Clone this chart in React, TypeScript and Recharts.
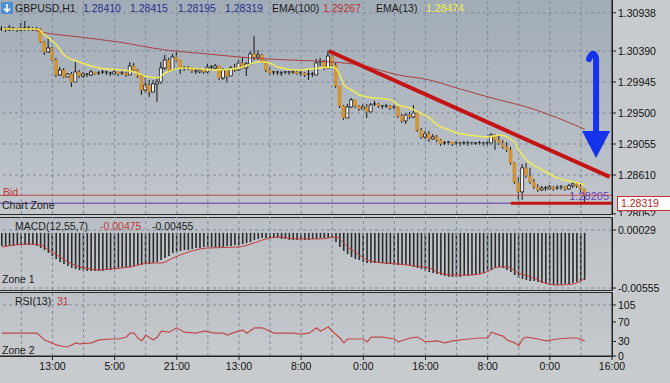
import React from "react";
import {
  Bar,
  ComposedChart,
  Line,
  ReferenceDot,
  ReferenceLine,
  XAxis,
  YAxis,
} from "recharts";

// GBPUSD H1 candles, bar 0 .. 150 (open = previous close)
const firstOpen = 1.30692;
const closes = [
  1.30706, 1.30692, 1.3072, 1.30706, 1.30692, 1.3072, 1.30706, 1.3072, 1.30692, 1.30706,
  1.30519, 1.30376, 1.30433, 1.30261, 1.30046, 1.30117, 1.30017, 1.3006, 1.29945, 1.30089,
  1.30031, 1.3006, 1.30046, 1.30089, 1.3006, 1.30074, 1.30089, 1.30074, 1.3006, 1.30089,
  1.3006, 1.30074, 1.30046, 1.30175, 1.30117, 1.30031, 1.2983, 1.29902, 1.29802, 1.29917,
  1.29945, 1.30146, 1.30261, 1.30117, 1.30304, 1.30261, 1.30146, 1.30132, 1.30146, 1.30103,
  1.30089, 1.30117, 1.30089, 1.30161, 1.30146, 1.30175, 1.30003, 1.30117, 1.30031, 1.30146,
  1.30117, 1.30218, 1.30146, 1.30204, 1.30347, 1.30304, 1.30333, 1.30247, 1.30117, 1.30074,
  1.30089, 1.30074, 1.30074, 1.30089, 1.30074, 1.30089, 1.3006, 1.30074, 1.30046, 1.3006,
  1.30046, 1.30218, 1.30232, 1.30146, 1.30318, 1.30189, 1.29888, 1.29601, 1.29429, 1.29587,
  1.29687, 1.29601, 1.29558, 1.29587, 1.29515, 1.29615, 1.2963, 1.29601, 1.29587, 1.29601,
  1.29572, 1.29587, 1.29457, 1.29386, 1.29472, 1.29443, 1.295, 1.29257, 1.29156, 1.29199,
  1.29127, 1.29156, 1.29113, 1.29055, 1.2907, 1.29084, 1.29055, 1.2907, 1.29055, 1.2907,
  1.29055, 1.2907, 1.29055, 1.2907, 1.29055, 1.2907, 1.29185, 1.29113, 1.2907, 1.29013,
  1.2897, 1.28783, 1.2851, 1.28367, 1.28712, 1.28597, 1.2851, 1.28439, 1.28396, 1.28424,
  1.2841, 1.28439, 1.2841, 1.28424, 1.28439, 1.2841, 1.28453, 1.28482, 1.28453, 1.2841,
  1.28319,
];
const highs = [
  1.30749, 1.30735, 1.30763, 1.30735, 1.3072, 1.30792, 1.30821, 1.30749, 1.30735, 1.30735,
  1.3072, 1.30534, 1.30577, 1.30448, 1.3029, 1.30161, 1.30146, 1.30074, 1.30089, 1.30232,
  1.30117, 1.30089, 1.30074, 1.30117, 1.30089, 1.30103, 1.30117, 1.30103, 1.30089, 1.30117,
  1.30089, 1.30103, 1.30089, 1.30232, 1.30218, 1.30132, 1.30046, 1.30003, 1.29974, 1.29974,
  1.30003, 1.30232, 1.30333, 1.3029, 1.30347, 1.30376, 1.30261, 1.30175, 1.30175, 1.30161,
  1.30132, 1.30146, 1.30132, 1.30204, 1.30189, 1.30204, 1.30175, 1.30146, 1.30089, 1.30175,
  1.30204, 1.30261, 1.30304, 1.30232, 1.3039, 1.30605, 1.30405, 1.30347, 1.30261, 1.30161,
  1.30103, 1.30103, 1.30103, 1.30103, 1.30103, 1.30117, 1.30117, 1.30103, 1.30089, 1.30117,
  1.30089, 1.30275, 1.3029, 1.30261, 1.30405, 1.30333, 1.30218, 1.29888, 1.29615, 1.2963,
  1.29716, 1.29687, 1.29615, 1.2963, 1.2963, 1.29644, 1.29673, 1.29644, 1.29615, 1.2963,
  1.29615, 1.29615, 1.29587, 1.29486, 1.295, 1.29515, 1.29615, 1.29515, 1.29285, 1.29242,
  1.29242, 1.29199, 1.29185, 1.29127, 1.29099, 1.29099, 1.29084, 1.29099, 1.29084, 1.29099,
  1.29099, 1.29084, 1.29084, 1.29099, 1.29084, 1.29099, 1.29214, 1.29199, 1.29185, 1.29113,
  1.29084, 1.29013, 1.28797, 1.28582, 1.28769, 1.28783, 1.28712, 1.28553, 1.28482, 1.28453,
  1.28453, 1.28467, 1.28453, 1.28467, 1.28467, 1.28453, 1.28482, 1.2851, 1.28496, 1.28496,
  1.28415,
];
const lows = [
  1.30677, 1.30663, 1.30677, 1.30677, 1.30663, 1.30677, 1.30677, 1.30677, 1.30677, 1.30677,
  1.30505, 1.30333, 1.30362, 1.30247, 1.30017, 1.30031, 1.30003, 1.30017, 1.29874, 1.29945,
  1.30003, 1.30003, 1.30017, 1.30031, 1.30046, 1.30046, 1.3006, 1.30046, 1.30031, 1.30046,
  1.30031, 1.30046, 1.30017, 1.30074, 1.30103, 1.30003, 1.29759, 1.29787, 1.2973, 1.29802,
  1.29658, 1.29917, 1.30117, 1.30089, 1.30117, 1.30232, 1.3006, 1.30103, 1.30117, 1.30074,
  1.3006, 1.30074, 1.3006, 1.30074, 1.30117, 1.30132, 1.29974, 1.29974, 1.29931, 1.30031,
  1.30089, 1.30103, 1.30132, 1.30031, 1.30189, 1.30261, 1.30261, 1.30218, 1.30089, 1.30046,
  1.30046, 1.30046, 1.30031, 1.3006, 1.30046, 1.3006, 1.30046, 1.30031, 1.30017, 1.29974,
  1.30017, 1.30089, 1.30175, 1.30117, 1.30146, 1.30161, 1.29859, 1.29572, 1.294, 1.29429,
  1.29572, 1.29572, 1.29529, 1.29558, 1.29429, 1.295, 1.29601, 1.29572, 1.29558, 1.29572,
  1.29544, 1.29558, 1.29429, 1.29357, 1.29343, 1.29414, 1.29429, 1.29228, 1.29127, 1.29127,
  1.29084, 1.29113, 1.29084, 1.29027, 1.29041, 1.29041, 1.29027, 1.29041, 1.29027, 1.29041,
  1.29027, 1.29041, 1.29041, 1.29041, 1.29027, 1.29027, 1.29041, 1.2897, 1.29041, 1.28984,
  1.28941, 1.28755, 1.28482, 1.28252, 1.28252, 1.28568, 1.28482, 1.2841, 1.28367, 1.28381,
  1.28381, 1.28396, 1.28381, 1.28396, 1.28396, 1.28381, 1.28396, 1.28424, 1.28424, 1.28367,
  1.28195,
];

// moving averages, read at a few bars
const ema13Bars = [0, 9, 11, 14, 16, 20, 25, 33, 38, 40, 42, 47, 55, 61, 66, 68, 71, 76, 82, 85, 87, 88, 90, 92, 94, 100, 102, 105, 107, 110, 112, 115, 117, 120, 125, 128, 130, 132, 133, 135, 139, 143, 147, 150];
const ema13Values = [1.30706, 1.30706, 1.3062, 1.30476, 1.30333, 1.30232, 1.30146, 1.30103, 1.30017, 1.30003, 1.30074, 1.30146, 1.30117, 1.30146, 1.30232, 1.30232, 1.30161, 1.30117, 1.30146, 1.30161, 1.30046, 1.29902, 1.2983, 1.29759, 1.2973, 1.29687, 1.29615, 1.29572, 1.29515, 1.29429, 1.29328, 1.29257, 1.29214, 1.29185, 1.29156, 1.29185, 1.29156, 1.2907, 1.2897, 1.28826, 1.28683, 1.28568, 1.2851, 1.28474];
const ema100Bars = [0, 7, 10, 20, 30, 42, 53, 64, 74, 85, 92, 102, 110, 117, 128, 135, 143, 150];
const ema100Values = [1.30706, 1.30706, 1.30663, 1.30591, 1.30519, 1.30405, 1.30347, 1.3029, 1.30261, 1.30232, 1.30189, 1.30046, 1.29974, 1.29859, 1.29687, 1.29587, 1.29429, 1.29267];

// MACD(12,55,7)
const macdValues = [
  -0.00132, -0.00132, -0.00132, -0.00132, -0.00122, -0.00122, -0.00122, -0.00122, -0.00122, -0.00132,
  -0.00152, -0.00172, -0.00202, -0.00233, -0.00263, -0.00293, -0.00313, -0.00333, -0.00353, -0.00364,
  -0.00374, -0.00384, -0.00384, -0.00384, -0.00384, -0.00384, -0.00384, -0.00374, -0.00374, -0.00364,
  -0.00353, -0.00353, -0.00343, -0.00343, -0.00333, -0.00323, -0.00323, -0.00313, -0.00313, -0.00303,
  -0.00293, -0.00273, -0.00253, -0.00233, -0.00202, -0.00192, -0.00182, -0.00172, -0.00172, -0.00162,
  -0.00152, -0.00152, -0.00142, -0.00142, -0.00142, -0.00142, -0.00142, -0.00142, -0.00132, -0.00132,
  -0.00122, -0.00122, -0.00112, -0.00102, -0.00092, -0.00071, -0.00061, -0.00051, -0.00051, -0.00051,
  -0.00051, -0.00051, -0.00061, -0.00061, -0.00071, -0.00071, -0.00071, -0.00071, -0.00071, -0.00071,
  -0.00061, -0.00061, -0.00051, -0.00051, -0.00051, -0.00051, -0.00092, -0.00142, -0.00182, -0.00212,
  -0.00243, -0.00263, -0.00273, -0.00293, -0.00303, -0.00303, -0.00303, -0.00303, -0.00303, -0.00313,
  -0.00313, -0.00323, -0.00323, -0.00323, -0.00323, -0.00333, -0.00343, -0.00353, -0.00364, -0.00384,
  -0.00394, -0.00404, -0.00414, -0.00424, -0.00434, -0.00444, -0.00444, -0.00444, -0.00444, -0.00434,
  -0.00434, -0.00424, -0.00424, -0.00414, -0.00404, -0.00394, -0.00374, -0.00353, -0.00343, -0.00353,
  -0.00374, -0.00394, -0.00424, -0.00454, -0.00464, -0.00475, -0.00485, -0.00485, -0.00495, -0.00505,
  -0.00515, -0.00525, -0.00525, -0.00525, -0.00525, -0.00515, -0.00515, -0.00505, -0.00495, -0.00485,
  -0.00475,
];
const signalBars = [0, 7, 10, 12, 15, 17, 20, 23, 25, 28, 33, 38, 41, 44, 48, 53, 61, 64, 69, 71, 76, 82, 86, 89, 92, 94, 98, 102, 106, 110, 112, 116, 120, 124, 128, 130, 133, 137, 139, 143, 147, 150];
const signalValues = [-0.00142, -0.00112, -0.00122, -0.00172, -0.00243, -0.00293, -0.00343, -0.00364, -0.00374, -0.00364, -0.00343, -0.00303, -0.00303, -0.00253, -0.00192, -0.00152, -0.00142, -0.00112, -0.00051, -0.00041, -0.00061, -0.00061, -0.00041, -0.00142, -0.00223, -0.00273, -0.00303, -0.00313, -0.00333, -0.00353, -0.00394, -0.00424, -0.00424, -0.00404, -0.00343, -0.00343, -0.00404, -0.00454, -0.00495, -0.00525, -0.00515, -0.00455];

// RSI(13)
const rsiBars = [0, 5, 9, 11, 14, 16, 17, 19, 20, 23, 25, 28, 30, 32, 33, 34, 35, 36, 37, 39, 40, 41, 43, 45, 47, 50, 52, 55, 57, 58, 60, 62, 63, 65, 67, 70, 73, 75, 77, 79, 81, 82, 84, 85, 87, 88, 89, 93, 94, 95, 98, 101, 102, 105, 107, 109, 112, 114, 116, 120, 123, 125, 126, 128, 129, 130, 132, 133, 134, 135, 138, 140, 143, 146, 148, 150];
const rsiValues = [47, 47, 47, 33, 23, 19, 19, 27, 25, 27, 33, 35, 35, 39, 47, 47, 37, 31, 43, 33, 39, 51, 49, 58, 49, 47, 51, 47, 47, 43, 49, 53, 47, 58, 58, 47, 47, 47, 45, 47, 58, 51, 60, 51, 37, 27, 35, 35, 29, 39, 39, 35, 29, 37, 39, 29, 31, 27, 31, 35, 37, 37, 49, 43, 41, 33, 27, 21, 35, 39, 35, 31, 35, 37, 37, 31];

// axes
const priceTicks = [1.30938, 1.3039, 1.29945, 1.295, 1.29055, 1.2861, 1.28052];
const macdTicks = [0.00029, -0.00555];
const rsiTicks = [0, 30, 70, 105];
const gridBars = [5, 13, 21, 29, 37, 45, 53, 61, 69, 77, 85, 93, 101, 109, 117, 125, 133, 141, 149];
const timeBars = [13, 29, 45, 61, 77, 93, 109, 125, 141, 157];
const timeLabels = ["13:00", "5:00", "21:00", "13:00", "8:00", "0:00", "16:00", "8:00", "0:00", "16:00"];

// drawn objects
const bidPrice = 1.28319;
const supportPrice = 1.28205;
const trendLine = [
  { x: 84.1, y: 1.3039 },
  { x: 156.4, y: 1.28582 },
];
const supportLine = [
  { x: 131, y: 1.28205 },
  { x: 156.9, y: 1.28205 },
];
const arrowAt = { x: 152.9, y: 1.30332 };

const X_DOMAIN: [number, number] = [-0.5, 157];
const FONT = '"Liberation Sans", Arial, sans-serif';
const GRID = "#7f8c9a";
const tickStyle = { fill: "#111", fontSize: 10.5, fontFamily: FONT };

const candles = closes.map((close, i) => {
  const open = i === 0 ? firstOpen : closes[i - 1];
  const high = Math.max(highs[i], open, close);
  const low = Math.min(lows[i], open, close);
  return { i, open, close, high, low, range: [low, high] };
});
const toPoints = (bars: number[], values: number[]) =>
  bars.map((i, k) => ({ i, v: values[k] }));
const ema13Points = toPoints(ema13Bars, ema13Values);
const ema100Points = toPoints(ema100Bars, ema100Values);
const macdRows = macdValues.map((macd, i) => ({ i, macd }));
const signalPoints = toPoints(signalBars, signalValues);
const rsiPoints = toPoints(rsiBars, rsiValues);

const Candle = (props: any) => {
  const { x, y, width, height, payload } = props;
  if (payload == null || x == null) return null;
  const top = Math.min(y, y + height);
  const h = Math.abs(height);
  const { open, close, high, low } = payload;
  const k = high - low > 0 ? h / (high - low) : 0;
  const cx = x + width / 2;
  const bTop = top + (high - Math.max(open, close)) * k;
  const bBot = top + (high - Math.min(open, close)) * k;
  const bull = close > open;
  const bh = bBot - bTop;
  return (
    <g>
      <line x1={cx} x2={cx} y1={top} y2={top + h} stroke="#161616" strokeWidth={1} />
      {bh < 1.2 ? (
        <line x1={cx - 1.5} x2={cx + 1.5} y1={bTop} y2={bTop} stroke="#161616" strokeWidth={1} />
      ) : (
        <rect
          x={cx - 1.5}
          y={bTop}
          width={3}
          height={bh}
          fill={bull ? "#f6f6f6" : "#d9952e"}
          stroke={bull ? "#161616" : "#c07f22"}
          strokeWidth={bull ? 0.8 : 0.4}
        />
      )}
    </g>
  );
};

const BlueArrow = (props: any) => {
  const { cx, cy } = props;
  if (cx == null) return null;
  return (
    <g>
      <path
        d={`M ${cx - 7} ${cy + 4} Q ${cx - 3} ${cy - 6} ${cx} ${cy + 3} L ${cx} ${cy + 78}`}
        stroke="#1433ea"
        strokeWidth={6}
        fill="none"
        strokeLinecap="round"
      />
      <path d={`M ${cx - 14} ${cy + 76} L ${cx + 14} ${cy + 76} L ${cx} ${cy + 103} Z`} fill="#1433ea" />
    </g>
  );
};

const T = ({ x, y, c = "#1c1c1c", children }: any) => (
  <div
    style={{
      position: "absolute",
      left: x,
      top: y,
      color: c,
      fontSize: 10.5,
      lineHeight: "12px",
      whiteSpace: "nowrap",
      fontFamily: FONT,
    }}
  >
    {children}
  </div>
);

const layer = (top: number): React.CSSProperties => ({ position: "absolute", left: 0, top });

export default function App() {
  return (
    <div
      style={{
        position: "absolute",
        left: 0,
        top: 0,
        width: 670,
        height: 383,
        overflow: "hidden",
        background: "#c8cbce",
        fontFamily: FONT,
      }}
    >
      {/* panel backgrounds */}
      <div style={{ position: "absolute", left: 0, top: 0, width: 613, height: 215, boxSizing: "border-box", borderRight: "1px solid #1e1e1e", borderBottom: "1px solid #2a2a2a", background: "linear-gradient(180deg, #a2acb7 0%, #b3bac2 55%, #c2c7cc 100%)" }} />
      <div style={{ position: "absolute", left: 0, top: 217, width: 613, height: 74, boxSizing: "border-box", border: "1px solid #2a2a2a", borderLeft: "none", background: "linear-gradient(180deg, #b9bfc5 0%, #c4c8cc 100%)" }} />
      <div style={{ position: "absolute", left: 0, top: 292, width: 613, height: 65, boxSizing: "border-box", border: "1px solid #2a2a2a", borderLeft: "none", background: "linear-gradient(180deg, #bcc1c7 0%, #c6cacd 100%)" }} />

      {/* price panel */}
      <div style={layer(0)}>
        <ComposedChart width={670} height={216} data={candles} margin={{ top: 0, right: 0, bottom: 2, left: 0 }}>
          <XAxis type="number" dataKey="i" domain={X_DOMAIN} hide allowDataOverflow />
          <YAxis
            orientation="right"
            width={58}
            domain={[1.2805, 1.31122]}
            ticks={priceTicks}
            interval={0}
            allowDataOverflow
            tickFormatter={(v: number) => v.toFixed(5)}
            tick={tickStyle}
            tickSize={4}
            tickMargin={2}
            axisLine={{ stroke: "#1e1e1e" }}
            tickLine={{ stroke: "#1e1e1e" }}
          />
          {gridBars.map((b) => (
            <ReferenceLine key={"gx" + b} x={b} stroke={GRID} strokeDasharray="3 3" />
          ))}
          {priceTicks.slice(0, 6).map((p) => (
            <ReferenceLine key={"gy" + p} y={p} stroke={GRID} strokeDasharray="3 3" />
          ))}
          <ReferenceLine y={bidPrice} stroke="#c44a4a" strokeWidth={1} />
          <ReferenceLine
            y={supportPrice}
            stroke="#5a2ea6"
            strokeWidth={1}
            label={{ value: "1.28205", position: "insideBottomRight", offset: 3, fill: "#6b3fb8", fontSize: 11, fontFamily: FONT }}
          />
          <Line data={ema100Points} dataKey="v" type="monotone" stroke="#a8403f" strokeWidth={1} dot={false} activeDot={false} isAnimationActive={false} />
          <Line data={ema13Points} dataKey="v" type="monotone" stroke="#efeb55" strokeWidth={1.5} dot={false} activeDot={false} isAnimationActive={false} />
          <Bar dataKey="range" barSize={3} shape={Candle} isAnimationActive={false} />
          <ReferenceLine segment={trendLine} stroke="#c41414" strokeWidth={4} />
          <ReferenceLine segment={supportLine} stroke="#c41414" strokeWidth={3} />
          <ReferenceDot x={arrowAt.x} y={arrowAt.y} r={0} shape={BlueArrow} />
        </ComposedChart>
      </div>

      {/* MACD panel */}
      <div style={layer(216)}>
        <ComposedChart width={670} height={82} data={macdRows} margin={{ top: 1, right: 0, bottom: 8, left: 0 }}>
          <XAxis type="number" dataKey="i" domain={X_DOMAIN} hide allowDataOverflow />
          <YAxis
            orientation="right"
            width={58}
            domain={[-0.00575, 0.0016]}
            ticks={macdTicks}
            interval={0}
            allowDataOverflow
            tickFormatter={(v: number) => v.toFixed(5)}
            tick={tickStyle}
            tickSize={4}
            tickMargin={2}
            axisLine={{ stroke: "#1e1e1e" }}
            tickLine={{ stroke: "#1e1e1e" }}
          />
          {gridBars.map((b) => (
            <ReferenceLine key={"mx" + b} x={b} stroke={GRID} strokeDasharray="3 3" />
          ))}
          {macdTicks.map((p) => (
            <ReferenceLine key={"my" + p} y={p} stroke={GRID} strokeDasharray="3 3" />
          ))}
          <Bar dataKey="macd" barSize={1.6} fill="#2a2a2a" isAnimationActive={false} />
          <Line data={signalPoints} dataKey="v" type="monotone" stroke="#c23b3b" strokeWidth={1} dot={false} activeDot={false} isAnimationActive={false} />
        </ComposedChart>
      </div>

      {/* RSI panel */}
      <div style={layer(290)}>
        <ComposedChart width={670} height={93} data={rsiPoints} margin={{ top: 2, right: 0, bottom: 0, left: 0 }}>
          <XAxis
            type="number"
            dataKey="i"
            domain={X_DOMAIN}
            allowDataOverflow
            ticks={timeBars}
            interval={0}
            height={27}
            tickFormatter={(v: number) => timeLabels[timeBars.indexOf(v)] ?? ""}
            tick={tickStyle}
            tickSize={4}
            tickMargin={3}
            axisLine={{ stroke: "#1e1e1e" }}
            tickLine={{ stroke: "#1e1e1e" }}
          />
          <YAxis
            orientation="right"
            width={58}
            domain={[0, 131.7]}
            ticks={rsiTicks}
            interval={0}
            allowDataOverflow
            tick={tickStyle}
            tickSize={4}
            tickMargin={2}
            axisLine={{ stroke: "#1e1e1e" }}
            tickLine={{ stroke: "#1e1e1e" }}
          />
          {gridBars.map((b) => (
            <ReferenceLine key={"rx" + b} x={b} stroke={GRID} strokeDasharray="3 3" />
          ))}
          <ReferenceLine y={105} stroke={GRID} strokeDasharray="3 3" />
          <Line dataKey="v" type="linear" stroke="#c04a4a" strokeWidth={1.2} dot={false} activeDot={false} isAnimationActive={false} />
        </ComposedChart>
      </div>

      {/* header texts */}
      <svg style={{ position: "absolute", left: 1, top: 2 }} width={12} height={12}>
        <rect x={0} y={0} width={12} height={12} rx={1} fill="#4f8fd6" />
        <path d="M6 2 L6 9 M3 6.5 L6 9.5 L9 6.5" stroke="#fff" strokeWidth={1.6} fill="none" />
      </svg>
      <T x={15} y={2}>GBPUSD,H1</T>
      <T x={83} y={2} c="#2a2f8e">1.28410</T>
      <T x={130} y={2} c="#2a2f8e">1.28415</T>
      <T x={178} y={2} c="#2a2f8e">1.28195</T>
      <T x={225} y={2} c="#2a2f8e">1.28319</T>
      <T x={272} y={2}>EMA(100)</T>
      <T x={323} y={2} c="#b83434">1.29267</T>
      <T x={376} y={2}>EMA(13)</T>
      <T x={426} y={2} c="#f2ee48">1.28474</T>

      <T x={3} y={186} c="#c03a3a">Bid</T>
      <T x={2} y={199}>Chart Zone</T>

      <div
        style={{
          position: "absolute",
          left: 617,
          top: 196,
          width: 60,
          height: 15,
          boxSizing: "border-box",
          border: "1px solid #c83030",
          background: "#fbfbfb",
          color: "#b02a2a",
          fontSize: 10.5,
          lineHeight: "13px",
          paddingLeft: 3,
          fontFamily: FONT,
        }}
      >
        1.28319
      </div>

      <T x={15} y={220}>MACD(12,55,7)</T>
      <T x={100} y={220} c="#c23b3b">-0.00475</T>
      <T x={152} y={220}>-0.00455</T>
      <T x={2} y={273}>Zone 1</T>

      <T x={15} y={295}>RSI(13)</T>
      <T x={57} y={295} c="#c23b3b">31</T>
      <T x={2} y={344}>Zone 2</T>
    </div>
  );
}
